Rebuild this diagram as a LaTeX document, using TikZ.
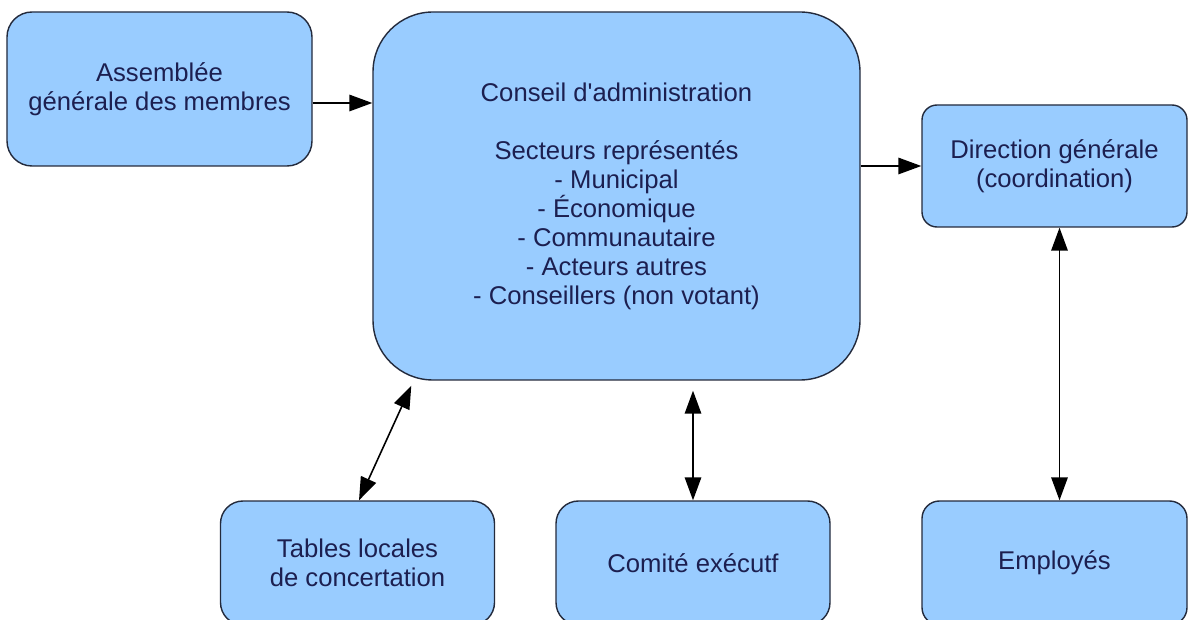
\documentclass[tikz,border=0pt]{standalone}
\usepackage{fontspec}
\usepackage{tikz}
\usetikzlibrary{arrows.meta,calc}

\newfontfamily\orgfont{Liberation Sans}
\definecolor{boxfill}{HTML}{99CCFF}
\definecolor{boxline}{HTML}{232A3C}
\definecolor{boxtext}{HTML}{1C1F50}

\begin{document}
\begin{tikzpicture}[
    orgbox/.style={draw=boxline, line width=0.8pt, fill=boxfill, text=boxtext,
        align=center, inner sep=0pt, font=\orgfont\fontsize{14.6}{16.5}\selectfont},
    link/.style={line width=0.9pt, -{Triangle[length=0.46cm, width=0.33cm]}},
    twoway/.style={line width=0.9pt, {Triangle[length=0.46cm, width=0.33cm]}-{Triangle[length=0.46cm, width=0.33cm]}}
]
    \useasboundingbox (0, 0) rectangle (23.76, 12.38);
    \clip (0, 0) rectangle (23.76, 12.38);

    \node[orgbox, rounded corners=0.5cm, minimum width=6.1cm, minimum height=3.08cm] (assemblee) at (3.19, 10.6) {Assemblée\\générale des membres};

    \node[orgbox, rounded corners=1.2cm, minimum width=9.74cm, minimum height=7.36cm] (conseil) at (12.33, 8.46)
        {Conseil d'administration\\[16.5pt]Secteurs représentés\\- Municipal\\- Économique\\- Communautaire\\- Acteurs autres\\- Conseillers (non votant)};

    \node[orgbox, rounded corners=0.3cm, minimum width=5.3cm, minimum height=2.44cm] (direction) at (21.09, 9.06) {Direction générale\\(coordination)};

    \node[orgbox, rounded corners=0.45cm, minimum width=5.48cm, minimum height=2.48cm] (tables) at (7.15, 1.12) {Tables locales\\de concertation};
    \node[orgbox, rounded corners=0.45cm, minimum width=5.48cm, minimum height=2.48cm] (comite) at (13.86, 1.12) {Comité exécutf};
    \node[orgbox, rounded corners=0.35cm, minimum width=5.3cm, minimum height=2.48cm] (employes) at (21.09, 1.12) {Employés};

    \coordinate (conseilsw) at ([shift={(0.78cm, -0.1cm)}]conseil.south west);

    \draw[link] ([yshift=-0.28cm]assemblee.east) -- ([yshift=-0.28cm]assemblee.east -| conseil.west);
    \draw[link] (conseil.east |- direction.west) -- (direction.west);
    \draw[twoway] (conseilsw) -- ([xshift=0.03cm]tables.north);
    \draw[twoway, shorten <=0.2cm] (conseil.south -| comite.north) -- (comite.north);
    \draw[twoway] ([xshift=0.1cm]direction.south) -- ([xshift=0.1cm]employes.north);
\end{tikzpicture}
\end{document}
